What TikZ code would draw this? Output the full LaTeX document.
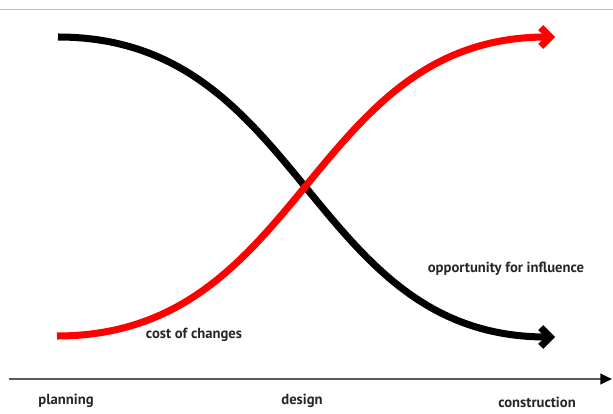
\documentclass[tikz,border=0pt]{standalone}
\usepackage{fontspec}
\setmainfont{PT Sans}
\usepackage{xcolor}
\usepackage{tikz}
\usetikzlibrary{arrows.meta}

\definecolor{axisgray}{HTML}{5A5A5A}
\tikzset{
  phase/.style={font=\bfseries\fontsize{12.5}{14}\selectfont, text=black!85, inner sep=0pt},
  curve/.style={line width=6pt, -{Straight Barb[length=8pt,width=16pt]}}
}

\begin{document}
\begin{tikzpicture}[x=0.03cm,y=-0.03cm]
\useasboundingbox (0,0) rectangle (613,413);
\draw[black!25, line width=0.6pt] (0,9) -- (613,9);
  \coordinate (K0) at (58,37);
  \coordinate (K1) at (555,337);
  \coordinate (C0) at (57,336);
  \coordinate (C1) at (555,37);
  \coordinate (T0) at (9,379);
  \coordinate (T1) at (612,379);
  \node[phase]         (P) at (66,401)  {planning};
  \node[phase]         (D) at (302,401) {design};
  \node[phase]         (B) at (537,402) {construction};
  \node[phase]         (CC) at (194,335) {cost of changes};
  \node[phase]         (OI) at (506,269) {opportunity for influence};

  \draw[curve, black] (K0) .. controls (305,37) and (308,337) .. (K1);
  \draw[curve, red]   (C0) .. controls (305,336) and (308,37) .. (C1);

  \draw[axisgray, line width=2pt, -{Triangle[length=10pt,width=9pt,black]}] (T0) -- (T1);
\end{tikzpicture}
\end{document}
